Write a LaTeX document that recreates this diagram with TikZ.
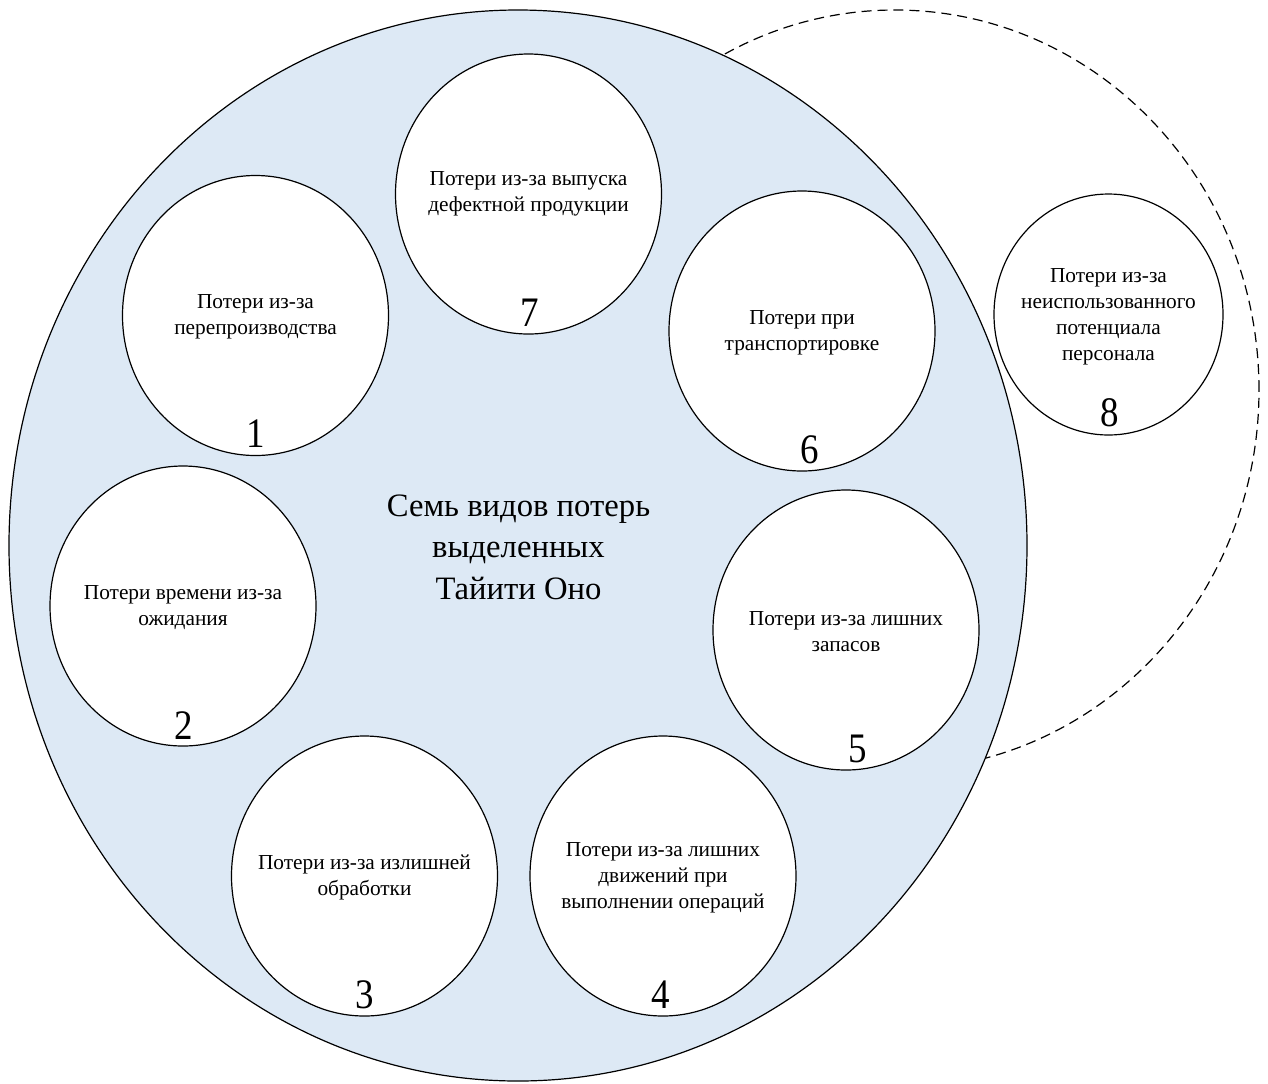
\documentclass[tikz,border=0pt]{standalone}
\usepackage{fontspec}
\setmainfont{Liberation Serif}
\newfontfamily\numfont{Liberation Serif}[FakeStretch=0.88]
\usetikzlibrary{shapes.geometric,calc}
\definecolor{bigfill}{HTML}{DDE9F5}
\tikzset{
  ring/.style={ellipse, draw=black, line width=0.9pt, inner sep=0pt, outer sep=0pt},
  smallring/.style={ring, fill=white, minimum width=199.5pt, minimum height=210pt},
  txt/.style={align=center, inner sep=0pt, font=\fontsize{16}{19.5}\selectfont},
  num/.style={anchor=base, inner sep=0pt, font=\numfont\fontsize{31.5}{31.5}\selectfont},
  title/.style={align=center, inner sep=0pt, font=\fontsize{24.5}{31}\selectfont}
}
\begin{document}
\begin{tikzpicture}[x=0.75pt, y=-0.75pt]
\useasboundingbox (0,0) rectangle (1268,1083);
% outer dashed ring (partly hidden by the big disc)
\node[ring, dashed, dash pattern=on 7.5pt off 4.5pt, minimum width=546pt, minimum height=570pt] (outer) at (895,390) {};
% big disc
\node[ring, fill=bigfill, minimum width=763.5pt, minimum height=803.25pt] (big) at (518,545.5) {};
\node[title] (title) at (518.5,547) {Семь видов потерь\\выделенных\\Тайити Оно};
% small circles
\node[smallring] (c1) at (255.5,315.5) {};
\node[smallring] (c2) at (183,606) {};
\node[smallring] (c3) at (364.5,876) {};
\node[smallring] (c4) at (663,876) {};
\node[smallring] (c5) at (846,630) {};
\node[smallring] (c6) at (802,331) {};
\node[smallring] (c7) at (528.5,194) {};
\node[smallring, minimum width=171.75pt, minimum height=180.75pt] (c8) at (1108.5,314.5) {};
% texts
\node[txt] (t1) at ($(c1.center)+(0,1.5)$) {Потери из-за\\перепроизводства};
\node[txt] (t2) at ($(c2.center)+(0,1.5)$) {Потери времени из-за\\ожидания};
\node[txt] (t3) at ($(c3.center)+(0,1.5)$) {Потери из-за излишней\\обработки};
\node[txt] (t4) at ($(c4.center)+(0,1.5)$) {Потери из-за лишних\\движений при\\выполнении операций};
\node[txt] (t5) at ($(c5.center)+(0,1.5)$) {Потери из-за лишних\\запасов};
\node[txt] (t6) at ($(c6.center)+(0,1.5)$) {Потери при\\транспортировке};
\node[txt] (t7) at ($(c7.center)+(0,0)$) {Потери из-за выпуска\\дефектной продукции};
\node[txt] (t8) at ($(c8.center)+(0,2)$) {Потери из-за\\неиспользованного\\потенциала\\персонала};
% numbers
\node[num] (n1) at ($(c1.south)+(0,-8)$) {1};
\node[num] (n2) at ($(c2.south)+(1,-7)$) {2};
\node[num] (n3) at ($(c3.south)+(0.5,-8)$) {3};
\node[num] (n4) at ($(c4.south)+(-2,-8)$) {4};
\node[num] (n5) at ($(c5.south)+(12,-8)$) {5};
\node[num] (n6) at ($(c6.south)+(8,-8)$) {6};
\node[num] (n7) at ($(c7.south)+(1.5,-8)$) {7};
\node[num] (n8) at ($(c8.south)+(1,-9)$) {8};
\end{tikzpicture}
\end{document}
